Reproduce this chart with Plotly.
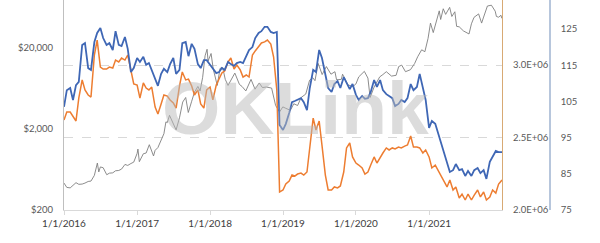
import math
import pandas as pd
import plotly.graph_objects as go

# ---- data ----
semi_monthly_dates = pd.date_range("2016-01-01", "2022-01-01", freq="SMS")

blue_index = [
    103.5,108.1,108.7,105.4,109.5,110.4,120.6,121.1,114.2,113.7,121.4,123.9,125.3,122.5,120.6,121.1,119.2,124.4,120.6,120.3,122.8,119.5,113.1,114.2,
    117.0,115.9,117.3,115.1,115.6,113.7,110.9,109.3,112.6,114.0,113.1,115.3,117.0,112.6,113.7,121.1,121.4,117.5,120.9,119.5,115.3,114.2,116.4,116.4,
    115.1,114.2,112.8,113.1,114.2,113.7,115.9,115.3,114.8,115.6,115.9,115.6,117.3,119.2,120.0,122.5,123.9,124.4,125.6,125.6,124.2,123.9,124.2,98.5,
    97.1,98.8,101.8,104.8,105.1,105.4,105.9,104.8,102.6,108.7,113.7,113.1,119.2,117.0,112.3,108.7,107.6,109.8,110.6,108.7,111.7,110.1,108.4,109.8,
    106.8,105.4,106.5,105.7,105.9,107.6,110.9,109.0,110.9,108.1,107.0,106.5,105.9,103.7,104.3,105.4,104.8,105.9,109.8,108.1,109.0,112.6,108.7,105.4,
    97.7,99.6,98.8,96.3,93.8,91.6,88.0,85.5,86.0,87.7,86.0,86.3,84.4,85.8,84.4,86.0,86.6,85.2,86.0,83.6,88.3,89.6,91.3,91.0,
    91.0,
]

orange_millions = [
    2.621,2.676,2.676,2.648,2.614,2.772,2.897,2.828,2.793,2.779,3.069,3.172,2.986,2.972,2.972,2.986,2.979,3.034,3.021,3.048,3.034,3.069,2.966,2.869,
    2.862,2.772,2.876,2.841,2.828,2.848,2.710,2.662,2.731,2.793,2.786,2.759,2.738,2.703,2.855,2.952,2.897,2.903,2.855,2.793,2.828,2.731,2.703,2.828,
    2.848,2.759,2.862,2.910,2.945,2.959,3.021,3.048,2.972,3.000,2.966,2.917,2.931,2.917,3.069,3.097,3.131,3.152,3.159,3.172,3.145,3.055,2.828,2.124,
    2.138,2.179,2.200,2.241,2.234,2.248,2.255,2.241,2.262,2.414,2.634,2.552,2.614,2.448,2.241,2.138,2.138,2.159,2.152,2.166,2.262,2.428,2.462,2.366,
    2.324,2.310,2.290,2.248,2.262,2.310,2.366,2.324,2.366,2.393,2.428,2.414,2.428,2.421,2.434,2.428,2.441,2.448,2.510,2.434,2.434,2.428,2.393,2.414,
    2.366,2.290,2.310,2.276,2.241,2.207,2.159,2.207,2.138,2.159,2.083,2.110,2.069,2.110,2.069,2.103,2.138,2.090,2.124,2.069,2.090,2.138,2.117,2.179,
    2.207,
]

price_dates = [
    "2016-01-01","2016-01-15","2016-02-01","2016-02-15","2016-03-01","2016-03-15","2016-04-01","2016-04-15","2016-05-01","2016-05-15",
    "2016-06-01","2016-06-16","2016-06-23","2016-07-01","2016-07-15","2016-08-02","2016-08-15","2016-09-01","2016-09-15","2016-10-01",
    "2016-10-15","2016-11-01","2016-11-15","2016-12-01","2016-12-15","2017-01-01","2017-01-05","2017-01-12","2017-02-01","2017-02-15",
    "2017-03-03","2017-03-24","2017-04-01","2017-04-15","2017-05-01","2017-05-15","2017-05-25","2017-06-01","2017-06-12","2017-06-25",
    "2017-07-15","2017-08-01","2017-08-17","2017-09-01","2017-09-14","2017-10-01","2017-10-15","2017-11-01","2017-11-12","2017-11-25",
    "2017-12-07","2017-12-17","2017-12-22","2018-01-06","2018-01-17","2018-02-06","2018-02-20","2018-03-05","2018-03-18","2018-04-01",
    "2018-04-15","2018-05-05","2018-05-28","2018-06-10","2018-06-29","2018-07-25","2018-08-14","2018-09-04","2018-09-20","2018-10-10",
    "2018-11-05","2018-11-20","2018-11-25","2018-12-15","2018-12-31","2019-01-15","2019-02-07","2019-02-24","2019-03-15","2019-04-02",
    "2019-04-25","2019-05-14","2019-05-30","2019-06-10","2019-06-26","2019-07-16","2019-08-06","2019-08-29","2019-09-18","2019-09-26",
    "2019-10-20","2019-10-26","2019-11-22","2019-12-17","2020-01-01","2020-01-15","2020-02-12","2020-03-01","2020-03-12","2020-04-01",
    "2020-04-29","2020-05-15","2020-06-01","2020-06-27","2020-07-20","2020-08-02","2020-08-17","2020-09-05","2020-09-30","2020-10-21",
    "2020-11-05","2020-11-25","2020-12-11","2020-12-27","2021-01-08","2021-01-22","2021-02-08","2021-02-21","2021-02-28","2021-03-13",
    "2021-03-25","2021-04-14","2021-04-25","2021-05-10","2021-05-19","2021-06-01","2021-06-22","2021-07-20","2021-08-01","2021-08-14",
    "2021-09-06","2021-09-21","2021-10-01","2021-10-20","2021-11-09","2021-11-28","2021-12-04","2021-12-15","2021-12-27","2021-12-31",
]
price_usd = [
    430,380,375,405,435,415,418,430,450,455,
    535,760,590,680,665,545,570,575,610,615,
    640,730,710,750,780,1000,1130,790,990,1010,
    1280,930,1090,1180,1420,1750,2450,2400,2950,2500,
    1950,2750,4300,4900,3200,4400,5700,6700,5900,8700,
    16000,19300,13800,17100,11000,6900,11200,11500,8200,6900,
    8100,9800,7100,6700,5900,8200,6200,7400,6500,6600,
    6400,4400,3900,3250,3750,3600,3400,4100,3900,4900,
    5400,8000,8600,7900,12900,9400,11800,9500,10200,8100,
    8200,9500,7000,6700,7200,8800,10300,8500,4900,6600,
    8800,9400,10200,9000,9200,11800,12300,10200,10800,12900,
    15600,19000,18000,26300,40600,31000,46000,57500,45000,61000,
    52000,63500,49000,56000,37000,36500,32500,29800,39800,47800,
    52700,40600,48200,66000,67500,57000,49000,48000,50700,46500,
]

year_ticks = ["2016-01-01","2017-01-01","2018-01-01","2019-01-01","2020-01-01","2021-01-01"]
year_labels = ["1/1/2016","1/1/2017","1/1/2018","1/1/2019","1/1/2020","1/1/2021"]
price_ticks = [200, 2000, 20000]
price_labels = ["$200", "$2,000", "$20,000"]
mid_ticks = [2.0e6, 2.5e6, 3.0e6]
mid_labels = ["2.0E+06", "2.5E+06", "3.0E+06"]
idx_ticks = [75, 85, 95, 105, 115, 125]

orange_values = [v * 1e6 for v in orange_millions]

# ---- figure ----
W, H = 600, 243
left, plot_right, axis3_x = 64, 502, 550
top, bottom = 0, 210

FONT = "Lato"
LBL = "#595959"

fig = go.Figure()
fig.add_trace(go.Scatter(x=price_dates, y=price_usd, mode="lines",
                         line=dict(color="#7f7f7f", width=0.9), yaxis="y", name="price"))
fig.add_trace(go.Scatter(x=semi_monthly_dates, y=orange_values, mode="lines",
                         line=dict(color="#ed7d31", width=1.5), yaxis="y2", name="orange"))
fig.add_trace(go.Scatter(x=semi_monthly_dates, y=blue_index, mode="lines",
                         line=dict(color="#3f67b5", width=1.8), yaxis="y3", name="blue"))

plot_w_frac = (plot_right - left) / (W - left)
lo = math.log10(200)
fig.update_layout(
    width=W, height=H,
    margin=dict(l=left, r=0, t=top, b=H - bottom),
    paper_bgcolor="white", plot_bgcolor="white",
    showlegend=False,
    font=dict(family=FONT, size=9.5, color=LBL),
    xaxis=dict(domain=[0, plot_w_frac], type="date",
               range=["2016-01-01", "2022-01-01"],
               tickvals=year_ticks, ticktext=year_labels,
               tickfont=dict(size=10, color="#404040"),
               ticks="outside", ticklen=4, tickcolor="#d9d9d9",
               showline=True, linecolor="#d9d9d9", linewidth=1,
               showgrid=False, zeroline=False),
    yaxis=dict(type="log", range=[lo, lo + (bottom - top) / 81.0],
               tickvals=price_ticks, ticktext=price_labels,
               showline=True, linecolor="#bfbfbf", linewidth=1,
               showgrid=False, zeroline=False, ticks="", ticklabelstandoff=8),
    yaxis2=dict(overlaying="y", side="right", anchor="x",
                range=[2.0e6, 2.0e6 + (bottom - top) * 1e6 / 145.0],
                tickvals=mid_ticks, ticktext=mid_labels,
                showgrid=True, gridcolor="#d9d9d9", griddash="dash", gridwidth=1,
                showline=True, linecolor="#d8aa74", linewidth=1,
                zeroline=False, ticks="", ticklabelstandoff=8),
    yaxis3=dict(overlaying="y", side="right", anchor="free",
                position=(axis3_x - left) / (W - left),
                range=[75, 75 + (bottom - top) / 3.62],
                tickvals=idx_ticks,
                showgrid=False, showline=True, linecolor="#b7c6dc", linewidth=1.5,
                zeroline=False, ticks="", ticklabelstandoff=8),
)

fig.add_annotation(text="<b>OKLink</b>", xref="paper", yref="paper",
                   x=(295 - left) / (W - left), y=1 - (108 - top) / (bottom - top),
                   showarrow=False,
                   font=dict(family="Liberation Sans", size=75, color="rgba(185,185,185,0.5)"))

fig.write_html("out.html")
